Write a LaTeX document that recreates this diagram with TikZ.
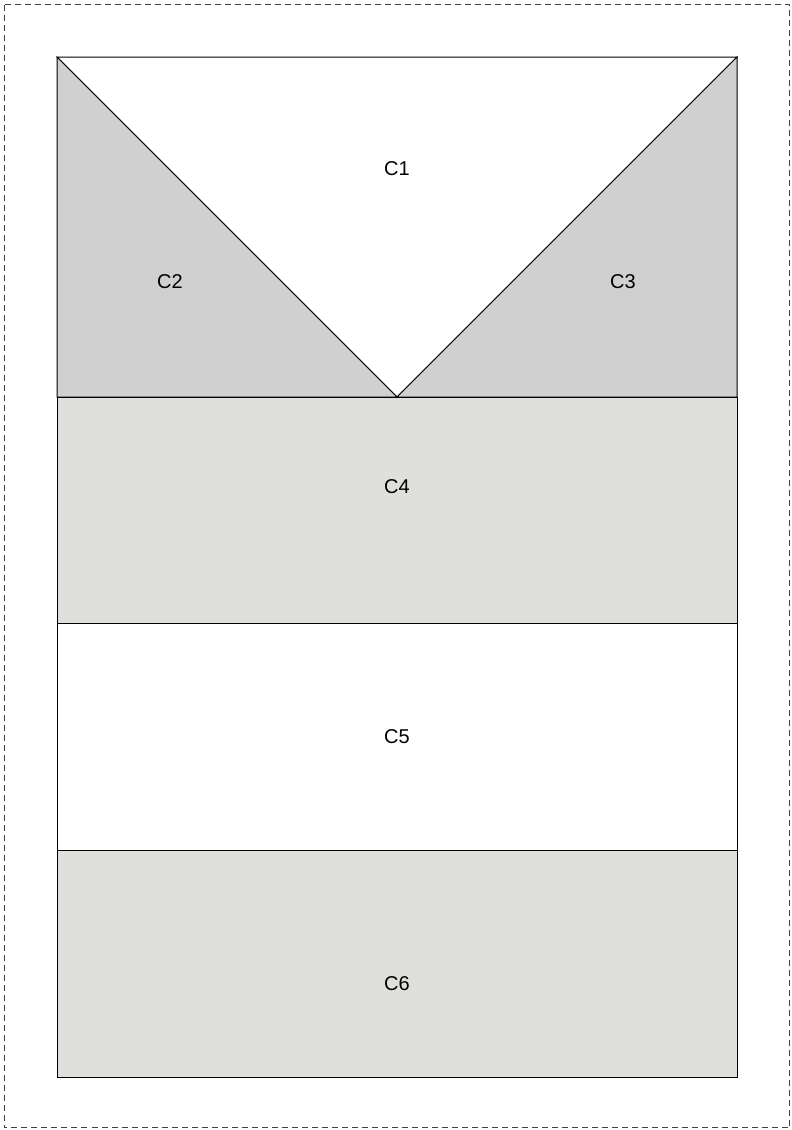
\documentclass[tikz,border=0pt]{standalone}
\usepackage{fontspec}
\setmainfont{Liberation Sans}
\usetikzlibrary{calc}

\definecolor{triGray}{HTML}{D0D0D0}
\definecolor{bandGray}{HTML}{DFDFDB}

\begin{document}
\begin{tikzpicture}[x=1pt, y=-1pt, line join=miter,
        cell/.style={draw=black, line width=1pt},
        lbl/.style={font=\fontsize{20}{24}\selectfont, inner sep=0pt}]
        % --- 1. Parameters ---
        \def\padL{57}
        \def\padR{737}
        \def\rowA{57}
        \def\rowB{397}
        \def\rowC{623}
        \def\rowD{850}
        \def\rowE{1077}

        % --- 2. Page frame ---
        \useasboundingbox (0,0) rectangle (792,1130);
        \draw[black!75, line width=1pt, dash pattern=on 6pt off 4pt]
            (4.5,4.5) rectangle (789.5,1127.5);

        % --- 3. Top band: triangles ---
        \coordinate (TL) at (\padL,\rowA);
        \coordinate (TR) at (\padR,\rowA);
        \coordinate (ML) at (\padL,\rowB);
        \coordinate (MR) at (\padR,\rowB);
        \coordinate (Apex) at ({(\padL+\padR)/2},\rowB);

        \filldraw[cell, fill=white] (TL) -- (TR) -- (Apex) -- cycle;
        \filldraw[cell, fill=triGray] (TL) -- (Apex) -- (ML) -- cycle;
        \filldraw[cell, fill=triGray] (TR) -- (MR) -- (Apex) -- cycle;

        % --- 4. Lower bands ---
        \filldraw[cell, fill=bandGray] (\padL,\rowB) rectangle (\padR,\rowC);
        \filldraw[cell, fill=white] (\padL,\rowC) rectangle (\padR,\rowD);
        \filldraw[cell, fill=bandGray] (\padL,\rowD) rectangle (\padR,\rowE);

        % --- 5. Labels ---
        \node[lbl] (c1) at (397,169) {C1};
        \node[lbl] (c2) at (170,282) {C2};
        \node[lbl] (c3) at (623,282) {C3};
        \node[lbl] (c4) at (397,487) {C4};
        \node[lbl] (c5) at (397,737) {C5};
        \node[lbl] (c6) at (397,984) {C6};
    \end{tikzpicture}
\end{document}
